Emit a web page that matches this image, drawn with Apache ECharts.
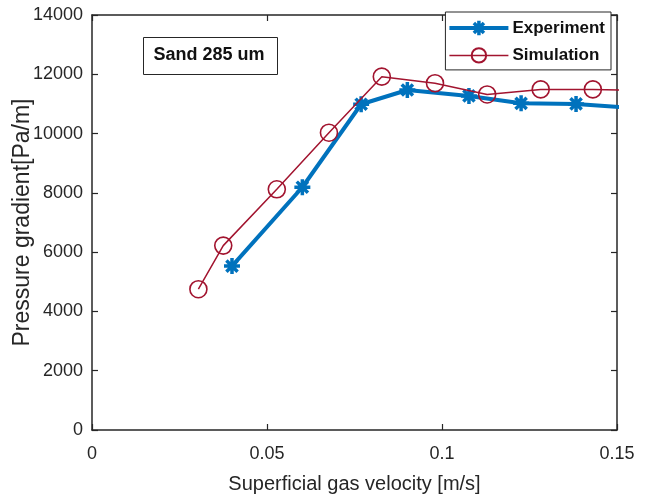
<!DOCTYPE html>
<html>
<head>
<meta charset="utf-8">
<script src="https://cdn.jsdelivr.net/npm/echarts@6/dist/echarts.min.js"></script>
<style>html,body{margin:0;padding:0;background:#fff}#c{width:654px;height:503px}</style>
</head>
<body>
<div id="c"></div>
<script>
const expX = [0.040, 0.0601, 0.0769, 0.0901, 0.1077, 0.1226, 0.1383, 0.153];
const expY = [5530, 8190, 10990, 11470, 11270, 11020, 11000, 10880];
const simX = [0.0304, 0.0375, 0.0528, 0.0677, 0.0828, 0.0980, 0.1129, 0.1282, 0.1431, 0.158];
const simY = [4750, 6220, 8120, 10030, 11920, 11700, 11320, 11490, 11490, 11450];
const xTicks = [0, 0.05, 0.1, 0.15];
const yTicks = [0, 2000, 4000, 6000, 8000, 10000, 12000, 14000];

const axisColor = '#262626';
const FONT = '"Liberation Sans", Arial, sans-serif';
const asterisk = 'path://M0,-10L0,10M-10,0L10,0M-7,-7L7,7M-7,7L7,-7';

const chart = echarts.init(document.getElementById('c'), null, {renderer: 'canvas'});
const mkAxis = (extra) => Object.assign({
  type: 'value',
  axisLine: {show: true, onZero: false, lineStyle: {color: axisColor, width: 1.5}},
  axisTick: {show: true, inside: true, length: 6, lineStyle: {color: axisColor, width: 1.2}},
  splitLine: {show: false}
}, extra);

chart.setOption({
  animation: false,
  backgroundColor: '#fff',
  grid: {left: 92, right: 37, top: 15, bottom: 73, containLabel: false, outerBoundsMode: 'none'},
  xAxis: [
    mkAxis({min: xTicks[0], max: xTicks[xTicks.length - 1], interval: 0.05, position: 'bottom',
      axisLabel: {color: axisColor, fontFamily: FONT, fontSize: 18, margin: 15,
        formatter: v => String(+v.toFixed(2))},
      name: 'Superficial gas velocity [m/s]', nameLocation: 'middle', nameGap: 44,
      nameTextStyle: {color: axisColor, fontFamily: FONT, fontSize: 20}}),
    mkAxis({min: xTicks[0], max: xTicks[xTicks.length - 1], interval: 0.05, position: 'top',
      axisLabel: {show: false}})
  ],
  yAxis: [
    mkAxis({min: yTicks[0], max: yTicks[yTicks.length - 1], interval: 2000, position: 'left',
      axisLabel: {color: axisColor, fontFamily: FONT, fontSize: 18, margin: 9,
        formatter: v => String(v)},
      name: 'Pressure gradient[Pa/m]', nameLocation: 'middle', nameGap: 58, nameMoveOverlap: false,
      nameTextStyle: {color: axisColor, fontFamily: FONT, fontSize: 23}}),
    mkAxis({min: yTicks[0], max: yTicks[yTicks.length - 1], interval: 2000, position: 'right',
      axisLabel: {show: false}})
  ],
  legend: {
    right: 43, top: 12,
    orient: 'vertical',
    backgroundColor: '#fff',
    borderColor: '#262626', borderWidth: 1,
    padding: [7, 6, 6, 2],
    itemGap: 10,
    itemWidth: 59, itemHeight: 18,
    textStyle: {color: '#111', fontFamily: FONT, fontWeight: 'bold', fontSize: 17, padding: [0, 0, 0, -1]},
    data: [
      {name: 'Experiment', lineStyle: {width: 4, color: '#0072BD'}, itemStyle: {borderWidth: 3.5}},
      {name: 'Simulation', lineStyle: {width: 1.5, color: '#A2142F'}}
    ]
  },
  graphic: [{
    type: 'group', left: 143, top: 37,
    children: [
      {type: 'rect', shape: {x: 0, y: 0, width: 134, height: 37}, style: {fill: '#fff', stroke: '#262626', lineWidth: 1}},
      {type: 'text', left: 10, top: 9, style: {text: 'Sand 285 um', fill: '#111', font: 'bold 18px "Liberation Sans", Arial, sans-serif'}}
    ]
  }],
  series: [
    {
      name: 'Simulation', type: 'line',
      data: simX.map((x, i) => [x, simY[i]]),
      symbol: 'circle', symbolSize: 17, showAllSymbol: true,
      lineStyle: {color: '#A2142F', width: 1.5},
      itemStyle: {color: 'rgba(0,0,0,0)', borderColor: '#A2142F', borderWidth: 1.6},
      clip: true, z: 3
    },
    {
      name: 'Experiment', type: 'line',
      data: expX.map((x, i) => [x, expY[i]]),
      symbol: asterisk, symbolSize: 16, showAllSymbol: true,
      lineStyle: {color: '#0072BD', width: 4},
      itemStyle: {color: '#0072BD', borderColor: '#0072BD', borderWidth: 3.5},
      clip: true, z: 2
    }
  ]
});
</script>
</body>
</html>
